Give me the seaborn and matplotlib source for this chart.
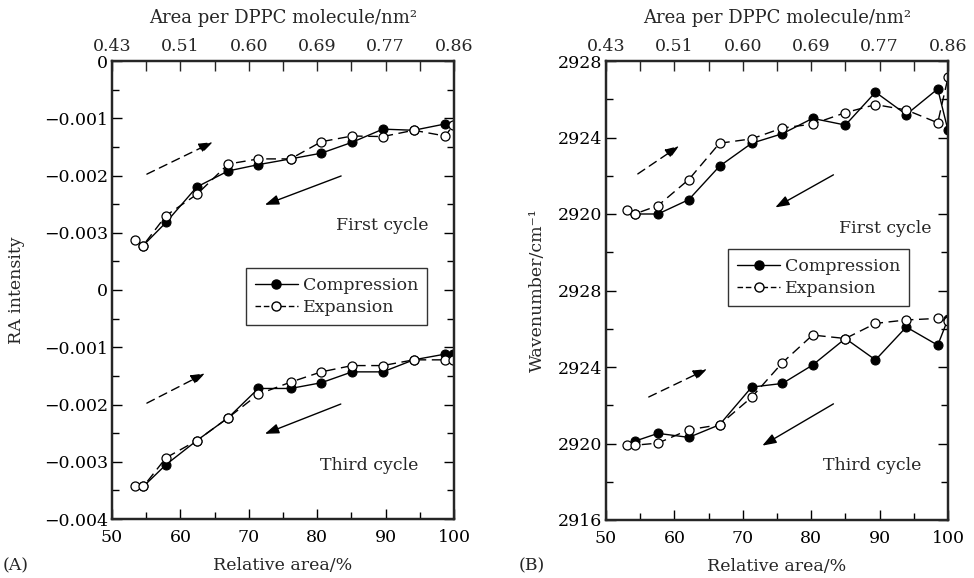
import numpy as np
import pandas as pd
import matplotlib
matplotlib.use("Agg")
import matplotlib.pyplot as plt
import seaborn as sns
from matplotlib.lines import Line2D
from matplotlib.ticker import FixedLocator, FixedFormatter, MultipleLocator

sns.set_theme(style="ticks")
plt.rcParams['font.family'] = ['DejaVu Serif']
FS = 12.5

# ---------------- data ----------------
# Panel A: RA intensity
a1_comp_x = [54.5, 57.9, 62.4, 67.0, 71.4, 76.1, 80.6, 85.1, 89.6, 94.1, 98.7]
a1_comp_y = [-0.00323, -0.00282, -0.00220, -0.00192, -0.00181, -0.00171, -0.00161, -0.00142, -0.00119, -0.00121, -0.00110]
a1_exp_x = [53.3, 54.5, 57.9, 62.4, 67.0, 71.4, 76.1, 80.6, 85.1, 89.6, 94.1, 98.7, 99.9]
a1_exp_y = [-0.00312, -0.00323, -0.00270, -0.00233, -0.00180, -0.00171, -0.00171, -0.00141, -0.00131, -0.00132, -0.00121, -0.00131, -0.00112]
a3_comp_x = [54.6, 57.9, 62.4, 67.0, 71.4, 76.1, 80.6, 85.1, 89.6, 94.1, 98.7, 99.9]
a3_comp_y = [-0.00343, -0.00305, -0.00263, -0.00223, -0.00172, -0.00172, -0.00162, -0.00143, -0.00143, -0.00122, -0.00112, -0.00112]
a3_exp_x = [53.3, 54.6, 57.9, 62.4, 67.0, 71.4, 76.1, 80.6, 85.1, 89.6, 94.1, 98.7, 99.9]
a3_exp_y = [-0.00343, -0.00343, -0.00293, -0.00263, -0.00223, -0.00182, -0.00161, -0.00143, -0.00132, -0.00132, -0.00122, -0.00122, -0.00122]

# Panel B: wavenumber
b1_comp_x = [54.2, 57.6, 62.1, 66.6, 71.3, 75.8, 80.2, 85.0, 89.4, 93.9, 98.5, 100.0]
b1_comp_y = [2920.0, 2920.0, 2920.75, 2922.5, 2923.7, 2924.2, 2925.0, 2924.65, 2926.37, 2925.2, 2926.54, 2924.37]
b1_exp_x = [53.0, 54.2, 57.6, 62.1, 66.6, 71.3, 75.8, 80.2, 85.0, 89.4, 93.9, 98.5, 100.0]
b1_exp_y = [2920.2, 2920.0, 2920.44, 2921.8, 2923.7, 2923.93, 2924.5, 2924.7, 2925.3, 2925.72, 2925.44, 2924.77, 2927.14]
b3_comp_x = [54.2, 57.6, 62.1, 66.6, 71.3, 75.8, 80.2, 85.0, 89.4, 93.9, 98.5, 100.0]
b3_comp_y = [2920.12, 2920.53, 2920.32, 2920.98, 2922.95, 2923.14, 2924.1, 2925.49, 2924.37, 2926.09, 2925.14, 2926.51]
b3_exp_x = [53.0, 54.2, 57.6, 62.1, 66.6, 71.3, 75.8, 80.2, 85.0, 89.4, 93.9, 98.5, 100.0]
b3_exp_y = [2919.91, 2919.91, 2920.02, 2920.72, 2920.98, 2922.42, 2924.23, 2925.67, 2925.49, 2926.28, 2926.46, 2926.54, 2926.39]

top_tick_labels = ["0.43", "0.51", "0.60", "0.69", "0.77", "0.86"]
bottom_ticks = [50, 60, 70, 80, 90, 100]
a_ytick_labels = ["\u22120.004", "\u22120.003", "\u22120.002", "\u22120.001", "0",
                  "\u22120.003", "\u22120.002", "\u22120.001", "0"]
b_ytick_labels = ["2916", "2920", "2924", "2928", "2920", "2924", "2928"]

# first cycle is drawn in the upper half, third cycle in the lower half
A_OFF_FIRST, A_OFF_THIRD = 0.0, -0.004
B_OFF_FIRST, B_OFF_THIRD = 12.0, 0.0

# ---------------- figure ----------------
W, H = 974, 578
fig = plt.figure(figsize=(W / 100, H / 100), dpi=100)
fig.patch.set_facecolor("white")

def box(l, t, r, b):
    return [l / W, 1 - b / H, (r - l) / W, (b - t) / H]

axA = fig.add_axes(box(112, 61, 454, 519))
axB = fig.add_axes(box(606, 61, 948, 520))

comp_kw = dict(color="black", marker="o", markersize=6.5, markerfacecolor="black",
               markeredgecolor="black", linewidth=1.0, linestyle="-",
               estimator=None, sort=False, legend=False)
exp_kw = dict(color="black", marker="o", markersize=6.5, markerfacecolor="white",
              markeredgecolor="black", markeredgewidth=0.9, linewidth=1.0,
              linestyle=(0, (7, 4)), estimator=None, sort=False, legend=False)

def draw(ax, cx1, cy1, ex1, ey1, cx3, cy3, ex3, ey3, off1, off3):
    sns.lineplot(x=cx3, y=list(np.array(cy3) + off3), ax=ax, **comp_kw)
    sns.lineplot(x=ex3, y=list(np.array(ey3) + off3), ax=ax, **exp_kw)
    sns.lineplot(x=cx1, y=list(np.array(cy1) + off1), ax=ax, **comp_kw)
    sns.lineplot(x=ex1, y=list(np.array(ey1) + off1), ax=ax, **exp_kw)

draw(axA, a1_comp_x, a1_comp_y, a1_exp_x, a1_exp_y,
     a3_comp_x, a3_comp_y, a3_exp_x, a3_exp_y, A_OFF_FIRST, A_OFF_THIRD)
draw(axB, b1_comp_x, b1_comp_y, b1_exp_x, b1_exp_y,
     b3_comp_x, b3_comp_y, b3_exp_x, b3_exp_y, B_OFF_FIRST, B_OFF_THIRD)

axA.set_ylim(-0.008, 0.0)
axA.yaxis.set_major_locator(FixedLocator(np.linspace(-0.008, 0.0, 9)))
axA.yaxis.set_major_formatter(FixedFormatter(a_ytick_labels))
axA.yaxis.set_minor_locator(MultipleLocator(0.0005))

axB.set_ylim(2916, 2940)
axB.yaxis.set_major_locator(FixedLocator([2916, 2920, 2924, 2928, 2932, 2936, 2940]))
axB.yaxis.set_major_formatter(FixedFormatter(b_ytick_labels))
axB.yaxis.set_minor_locator(MultipleLocator(2))

leg_pos = {0: (0.656, 0.486), 1: (0.621, 0.528)}
for i, ax in enumerate((axA, axB)):
    ax.set_xlim(50, 100)
    ax.set_xticks(bottom_ticks)
    ax.set_xticklabels([str(t) for t in bottom_ticks])
    ax.xaxis.set_minor_locator(MultipleLocator(5))
    ax.set_ylabel("")
    for s in ax.spines.values():
        s.set_linewidth(1.6)
        s.set_color("black")
    ax.tick_params(which="both", direction="in", right=True, top=False,
                   width=1.0, colors="black", labelsize=FS)
    ax.tick_params(which="major", length=7)
    ax.tick_params(which="minor", length=5)
    ax.tick_params(axis="x", pad=7)
    ax.tick_params(axis="y", pad=3)
    top = ax.twiny()
    top.set_xlim(50, 100)
    top.set_xticks(bottom_ticks)
    top.set_xticklabels(top_tick_labels)
    top.xaxis.set_minor_locator(MultipleLocator(5))
    top.tick_params(which="both", direction="in", width=1.0, labelsize=FS, pad=4)
    top.tick_params(which="major", length=7)
    top.tick_params(which="minor", length=7)
    top.set_xlabel("Area per DPPC molecule/nm\u00b2", fontsize=13, labelpad=11)
    for s in top.spines.values():
        s.set_linewidth(1.6)
    ax.set_xlabel("Relative area/%", fontsize=FS, labelpad=8)

    handles = [Line2D([], [], color="black", marker="o", markersize=6.5,
                      markerfacecolor="black", linewidth=1.0, linestyle="-"),
               Line2D([], [], color="black", marker="o", markersize=6.5,
                      markerfacecolor="white", linewidth=1.0, linestyle=(0, (4, 2)))]
    leg = ax.legend(handles, ["Compression", "Expansion"], loc="center",
                    bbox_to_anchor=leg_pos[i], bbox_transform=ax.transAxes,
                    frameon=True, fancybox=False,
                    handlelength=2.5, handletextpad=0.25, borderpad=0.5,
                    labelspacing=0.3, fontsize=FS, borderaxespad=0)
    leg.get_frame().set_edgecolor("black")
    leg.get_frame().set_linewidth(1.0)

# cycle labels
axA.text(0.924, 0.64, "First cycle", transform=axA.transAxes, ha="right", va="center", fontsize=FS)
axA.text(0.895, 0.116, "Third cycle", transform=axA.transAxes, ha="right", va="center", fontsize=FS)
axB.text(0.952, 0.636, "First cycle", transform=axB.transAxes, ha="right", va="center", fontsize=FS)
axB.text(0.923, 0.118, "Third cycle", transform=axB.transAxes, ha="right", va="center", fontsize=FS)

# direction arrows (axes fraction coordinates: start, end)
def arrows(ax, dashed, solid):
    ax.annotate("", xy=dashed[1], xytext=dashed[0], xycoords="axes fraction",
                arrowprops=dict(arrowstyle="-|>,head_length=0.7,head_width=0.25",
                                color="black", lw=1.0, linestyle=(0, (6, 4)),
                                shrinkA=0, shrinkB=0))
    ax.annotate("", xy=solid[1], xytext=solid[0], xycoords="axes fraction",
                arrowprops=dict(arrowstyle="-|>,head_length=0.7,head_width=0.25",
                                color="black", lw=1.0, shrinkA=0, shrinkB=0))

arrows(axA, ((0.102, 0.753), (0.295, 0.823)), ((0.670, 0.749), (0.447, 0.686)))
arrows(axA, ((0.102, 0.253), (0.272, 0.318)), ((0.669, 0.251), (0.447, 0.186)))
arrows(axB, ((0.093, 0.754), (0.214, 0.815)), ((0.665, 0.752), (0.495, 0.681)))
arrows(axB, ((0.125, 0.268), (0.296, 0.329)), ((0.665, 0.253), (0.457, 0.162)))

fig.text(17 / W, 1 - 290 / H, "RA intensity", rotation=90, ha="center", va="center", fontsize=FS)
fig.text(537 / W, 1 - 290 / H, "Wavenumber/cm\u207b\u00b9", rotation=90, ha="center", va="center", fontsize=FS)
fig.text(3 / W, 1 - 566 / H, "(A)", ha="left", va="center", fontsize=FS)
fig.text(519 / W, 1 - 566 / H, "(B)", ha="left", va="center", fontsize=FS)

fig.savefig("out.png", dpi=100, facecolor="white")
